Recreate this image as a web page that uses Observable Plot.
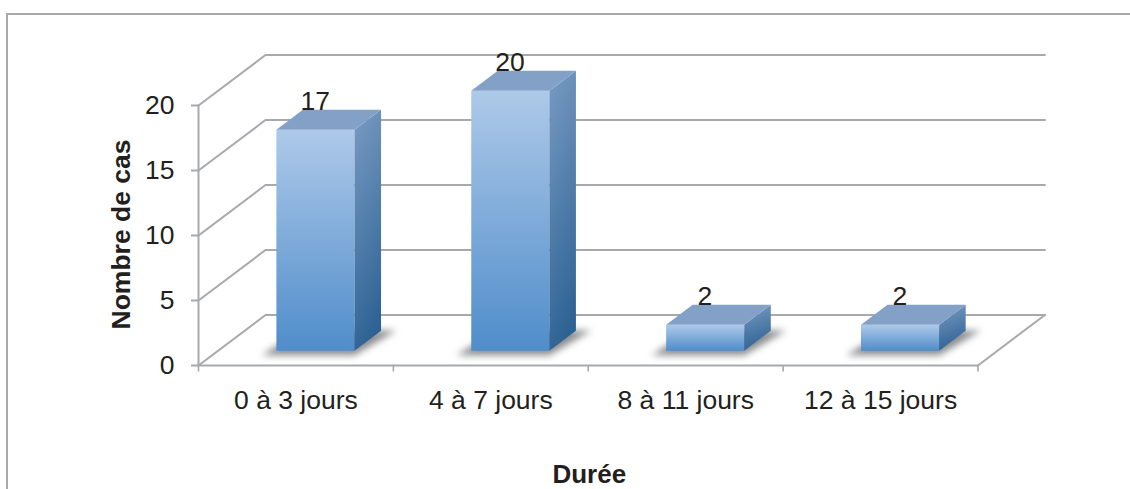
<!DOCTYPE html>
<html lang="fr">
<head>
<meta charset="utf-8">
<script src="https://cdn.jsdelivr.net/npm/d3@7"></script>
<script src="https://cdn.jsdelivr.net/npm/@observablehq/plot@0.6"></script>
<style>
  html, body { margin: 0; padding: 0; background: #fff; overflow: hidden; }
  #frame { position: absolute; left: 6px; top: 13px; right: -4px; bottom: -4px;
           border-left: 2px solid #a7a9ac; border-top: 2px solid #a7a9ac; }
  #chart { position: absolute; left: 0; top: 0; }
  #chart svg { background: transparent; }
</style>
</head>
<body>
<div id="frame"></div>
<div id="chart"></div>
<script>
const categories = ["0 à 3 jours", "4 à 7 jours", "8 à 11 jours", "12 à 15 jours"];
const values = [17, 20, 2, 2];
const yTicks = [0, 5, 10, 15, 20];
const xTicks = [0, 1, 2, 3, 4];
const yTitle = "Nombre de cas";
const xTitle = "Durée";

// Oblique projection: one unit of depth, expressed in data units of x and y.
const depthX = 67 / 195, depthY = 50.5 / 13;
const P = (u, v, z, id) => ({x: u + z * depthX, y: v + z * depthY, id});

const barLeft = 0.299, barRight = 0.7, zFront = 0.293, zBack = 0.689;
const xMax = categories.length;

const wallLines = yTicks.flatMap((v) => [P(0, v, 0, v), P(0, v, 1, v), P(xMax, v, 1, v)]);
const floorEdge = [P(xMax, 0, 0, "e"), P(xMax, 0, 1, "e")];
const axisLines = [
  {x: 0, y: 0, id: "v"}, {x: 0, y: yTicks[yTicks.length - 1], id: "v"},
  {x: 0, y: 0, id: "h"}, {x: xMax, y: 0, id: "h"}
];

const bars = values.map((v, i) => ({i, v, u0: i + barLeft, u1: i + barRight, label: v}));
const front = bars.flatMap((b) => [
  P(b.u0, 0, zFront, b.i), P(b.u1, 0, zFront, b.i), P(b.u1, b.v, zFront, b.i), P(b.u0, b.v, zFront, b.i)]);
const side = bars.flatMap((b) => [
  P(b.u1, 0, zFront, b.i), P(b.u1, b.v, zFront, b.i), P(b.u1, b.v, zBack, b.i), P(b.u1, 0, zBack, b.i)]);
const top_ = bars.flatMap((b) => [
  P(b.u0, b.v, zFront, b.i), P(b.u1, b.v, zFront, b.i), P(b.u1, b.v, zBack, b.i), P(b.u0, b.v, zBack, b.i)]);
const shadow = bars.flatMap((b) => [
  P(b.u0 - 0.075, -0.35, zFront, b.i), P(b.u1, -0.35, zFront, b.i),
  P(b.u1 + 0.085, 0.1, zBack - 0.02, b.i), P(b.u0, 0.1, zBack - 0.02, b.i)]);

const gridColor = "#a7a9ac";
const textColor = "#231f20";
const font = "'Liberation Sans', Arial, sans-serif";

const defs = () => d3.create("svg:defs").html(`
  <linearGradient id="gFront" x1="0" y1="0" x2="0" y2="1">
    <stop offset="0" stop-color="#aec9e9"/><stop offset="1" stop-color="#4f8dca"/>
  </linearGradient>
  <linearGradient id="gSide" x1="0.3" y1="0" x2="0.5" y2="1">
    <stop offset="0" stop-color="#7598c0"/><stop offset="1" stop-color="#2c6193"/>
  </linearGradient>`).node();

const plot = Plot.plot({
  width: 1130,
  height: 489,
  marginLeft: 198,
  marginRight: 152.5,
  marginTop: 105,
  marginBottom: 124,
  style: {fontFamily: font, background: "transparent"},
  x: {type: "linear", domain: [0, xMax], axis: null},
  y: {type: "linear", domain: [0, 20], axis: null},
  marks: [
    defs,
    Plot.line(wallLines, {x: "x", y: "y", z: "id", stroke: gridColor, strokeWidth: 2}),
    Plot.line(floorEdge, {x: "x", y: "y", z: "id", stroke: gridColor, strokeWidth: 2}),
    Plot.line(axisLines, {x: "x", y: "y", z: "id", stroke: gridColor, strokeWidth: 2}),
    Plot.ruleX(xTicks, {x: (d) => d, y1: 0, y2: -0.5, stroke: gridColor, strokeWidth: 1.6}),
    Plot.axisY({ticks: yTicks, tickSize: 7, tickPadding: 17, stroke: gridColor, strokeWidth: 2,
      fontSize: 26.5, color: textColor, label: null, tickFormat: (d) => d, textStroke: "none"}),
    Plot.text(categories, {x: (d, i) => i + 0.5, y: 0, text: (d) => d, dy: 35.5,
      fontSize: 26.5, fill: textColor}),
    Plot.line(shadow, {x: "x", y: "y", z: "id", fill: "#77787b", stroke: "none",
      fillOpacity: 0.85, imageFilter: "blur(3.5px)"}),
    Plot.line(front, {x: "x", y: "y", z: "id", fill: "url(#gFront)", stroke: "none"}),
    Plot.line(side, {x: "x", y: "y", z: "id", fill: "url(#gSide)", stroke: "none"}),
    Plot.line(top_, {x: "x", y: "y", z: "id", fill: "#83a1c7", stroke: "none"}),
    Plot.text(bars, {x: (b) => b.i + 0.5 + zFront * depthX - 0.002, y: (b) => b.v + zBack * depthY,
      text: "label", dy: -8, fontSize: 26.5, fill: textColor}),
    Plot.text([yTitle], {frameAnchor: "left", textAnchor: "middle", dx: -77, dy: -1, rotate: -90, fontSize: 26.5,
      fontWeight: "bold", fill: textColor}),
    Plot.text([xTitle], {frameAnchor: "bottom", dx: 1, dy: 117.5, fontSize: 26,
      fontWeight: "bold", fill: textColor})
  ]
});
document.getElementById("chart").appendChild(plot);
</script>
</body>
</html>
